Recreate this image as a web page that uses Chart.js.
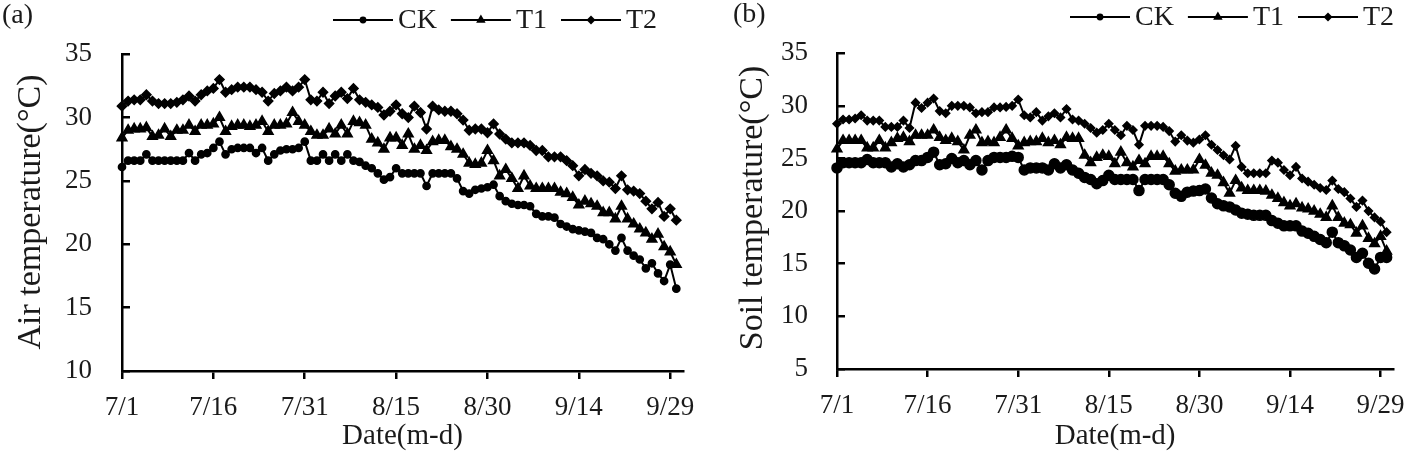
<!DOCTYPE html>
<html><head><meta charset="utf-8">
<script src="https://cdn.jsdelivr.net/npm/chart.js@4.4.1/dist/chart.umd.min.js"></script>
<style>
html,body{margin:0;padding:0;background:#fff;}
#wrap{position:relative;width:1418px;height:465px;overflow:hidden;background:#fff;}
canvas{position:absolute;top:0;}
#ca{left:0;} #cb{left:709px;}
</style></head><body>
<div id="wrap"><canvas id="ca" width="709" height="465"></canvas><canvas id="cb" width="709" height="465"></canvas></div>
<script>
const seriesNames = ['CK', 'T1', 'T2'];
const xTickPos = [0, 15, 30, 45, 60, 75, 90];
const xTickLabels = ['7/1', '7/16', '7/31', '8/15', '8/30', '9/14', '9/29'];
const airYTicks = [10, 15, 20, 25, 30, 35];
const soilYTicks = [5, 10, 15, 20, 25, 30, 35];

const airCK = [26.1,26.6,26.6,26.6,27.1,26.6,26.6,26.6,26.6,26.6,26.6,27.2,26.6,27.1,27.2,27.6,28.1,27.1,27.5,27.6,
  27.6,27.6,27.2,27.6,26.6,27.1,27.4,27.5,27.5,27.6,28.1,26.6,26.6,27.1,26.6,27.1,26.6,27.1,26.6,26.5,
  26.2,26.0,25.6,25.1,25.3,26.0,25.6,25.6,25.6,25.6,24.6,25.6,25.6,25.6,25.6,25.2,24.2,24.0,24.3,24.4,
  24.5,24.7,23.8,23.4,23.2,23.1,23.1,23.0,22.4,22.2,22.2,22.1,21.6,21.4,21.2,21.1,21.0,20.9,20.5,20.4,
  20.0,19.5,20.5,19.5,19.1,18.8,18.1,18.5,17.7,17.1,18.4,16.5];
const airT1 = [28.4,29.0,29.1,29.1,29.2,28.5,28.6,29.1,28.5,29.0,29.0,29.4,28.9,29.4,29.4,29.5,30.0,28.9,29.3,29.4,
  29.4,29.3,29.4,29.7,28.9,29.4,29.4,29.5,30.4,29.7,29.4,28.9,28.6,28.6,29.1,28.7,29.4,28.7,29.7,29.6,
  29.4,28.3,28.0,27.5,28.4,28.4,27.8,28.7,27.5,27.8,27.4,28.1,28.2,28.2,27.7,27.5,27.1,26.4,26.3,26.4,
  27.4,26.6,25.4,25.9,25.2,24.4,25.4,24.6,24.4,24.4,24.4,24.4,24.1,24.0,23.7,23.1,23.4,23.2,23.0,22.5,
  22.5,22.0,23.0,22.0,21.6,21.2,20.9,20.4,20.8,19.8,19.4,18.4];
const airT2 = [30.9,31.3,31.4,31.4,31.8,31.3,31.1,31.1,31.1,31.2,31.4,31.7,31.3,31.8,32.1,32.3,33.0,32.0,32.2,32.4,
  32.4,32.4,32.2,32.0,31.3,31.9,32.1,32.4,32.1,32.4,33.0,31.4,31.3,32.0,31.1,31.7,32.0,31.5,32.3,31.4,
  31.2,31.0,30.8,30.2,30.5,31.0,30.3,30.0,30.9,30.4,29.1,30.9,30.6,30.5,30.5,30.3,29.8,29.0,29.1,29.1,
  28.8,29.5,28.7,28.3,28.0,28.0,28.0,27.8,27.4,27.4,26.9,26.9,26.9,26.6,26.2,25.4,25.9,25.6,25.4,25.0,
  24.9,24.4,25.4,24.3,24.2,24.0,23.4,22.8,23.3,22.2,22.8,21.9];

const soilCK = [24.1,24.6,24.6,24.6,24.6,24.9,24.6,24.6,24.6,24.2,24.5,24.2,24.4,24.8,24.8,25.1,25.6,24.4,24.5,25.0,
  24.6,24.8,24.4,24.8,23.9,24.8,25.1,25.1,25.1,25.2,25.1,23.9,24.1,24.1,24.1,23.9,24.5,24.1,24.4,23.9,
  23.6,23.2,23.0,22.6,22.9,23.4,23.0,23.0,23.0,23.0,21.95,23.0,23.0,23.0,23.0,22.5,21.7,21.4,21.8,21.9,
  21.95,22.1,21.25,20.7,20.5,20.4,20.1,19.8,19.7,19.6,19.6,19.6,19.1,18.85,18.6,18.6,18.6,18.1,17.9,17.6,
  17.3,17.0,18.0,17.0,16.7,16.3,15.6,16.0,15.05,14.5,15.6,15.6];
const soilT1 = [25.9,26.7,26.7,26.7,26.7,26.0,26.0,26.7,26.0,26.5,26.9,27.0,26.6,27.2,27.2,27.2,27.7,27.0,26.7,26.9,
  26.6,25.8,27.2,27.7,26.5,26.6,26.5,27.0,27.7,26.9,26.2,26.5,26.6,26.6,26.9,26.5,26.7,26.3,27.0,26.9,
  26.9,25.3,24.6,25.1,25.3,25.2,24.5,25.6,24.6,24.2,24.8,24.5,25.2,25.2,25.2,24.5,23.8,23.9,23.9,23.9,
  24.9,24.35,23.6,23.4,22.7,21.7,22.9,22.2,21.95,21.95,21.95,21.9,21.5,21.2,20.8,20.5,20.7,20.3,20.2,20.0,
  19.7,19.4,20.5,19.4,18.85,18.7,17.9,18.6,17.4,16.9,17.6,16.2];
const soilT2 = [28.3,28.7,28.7,28.8,29.1,28.6,28.6,28.6,28.0,28.0,28.0,28.6,27.9,30.3,29.8,30.3,30.7,29.5,29.3,30.0,
  30.0,30.0,29.85,29.3,29.4,29.4,29.85,29.85,29.9,30.0,30.6,29.1,28.9,29.4,28.6,29.0,29.3,28.9,29.7,28.7,
  28.6,28.3,27.9,27.45,27.7,28.3,27.7,27.2,28.1,27.7,26.3,28.1,28.1,28.1,28.0,27.6,26.6,27.2,26.7,26.5,
  26.8,27.2,26.3,25.8,25.3,24.9,26.2,24.2,23.6,23.6,23.6,23.6,24.8,24.6,23.9,23.4,24.2,23.1,22.8,22.5,
  22.2,22.0,22.9,22.1,21.8,21.2,20.4,21.0,20.0,19.4,19.0,18.0];

const FONT = "'Liberation Serif', 'DejaVu Serif', serif";
const INK = '#1a1a1a';
const styles = ['circle', 'triangle', 'rectRot'];

function drawMarker(ctx, style, r, x, y) {
  ctx.beginPath();
  if (style === 'circle') {
    ctx.arc(x, y, r, 0, Math.PI * 2);
  } else if (style === 'triangle') {
    for (let i = 0; i < 3; i++) {
      const a = i * 2 * Math.PI / 3;
      const px = x + Math.sin(a) * r, py = y - Math.cos(a) * r;
      if (i === 0) ctx.moveTo(px, py); else ctx.lineTo(px, py);
    }
  } else {
    ctx.moveTo(x, y - r); ctx.lineTo(x + r, y); ctx.lineTo(x, y + r); ctx.lineTo(x - r, y);
  }
  ctx.closePath();
  ctx.fill();
}

const decor = {
  id: 'decor',
  afterDraw(chart, args, o) {
    const ctx = chart.ctx;
    ctx.save();
    ctx.fillStyle = INK;
    ctx.textBaseline = 'middle';
    ctx.font = '28px ' + FONT;
    ctx.textAlign = 'left';
    ctx.fillText(o.panel, o.panelX, o.panelY);
    ctx.save();
    ctx.translate(o.yTitleX, o.yTitleY);
    ctx.rotate(-Math.PI / 2);
    ctx.textAlign = 'center';
    ctx.font = '34px ' + FONT;
    ctx.fillText(o.yTitle, 0, 0);
    ctx.restore();
    let x = o.legendX;
    const y = o.legendY;
    ctx.font = '28px ' + FONT;
    chart.data.datasets.forEach((d, k) => {
      ctx.strokeStyle = '#000';
      ctx.lineWidth = 2;
      ctx.beginPath(); ctx.moveTo(x, y); ctx.lineTo(x + 60, y); ctx.stroke();
      ctx.fillStyle = '#000';
      drawMarker(ctx, styles[k], o.legendR[k], x + 30, y);
      x += 65;
      ctx.fillStyle = INK;
      ctx.textAlign = 'left';
      ctx.fillText(d.label, x, y + 1);
      x += ctx.measureText(d.label).width + 14;
    });
    ctx.restore();
  }
};

function makeChart(id, c) {
  const datasets = c.series.map((vals, k) => ({
    label: seriesNames[k],
    data: vals.map((v, i) => ({ x: i, y: v })),
    borderColor: '#000',
    backgroundColor: '#000',
    borderWidth: 2,
    pointStyle: styles[k],
    pointRadius: c.radii[k],
    pointHoverRadius: c.radii[k],
    pointBackgroundColor: '#000',
    pointBorderColor: '#000',
    pointBorderWidth: 1.5,
    tension: 0,
    clip: false
  }));
  new Chart(document.getElementById(id), {
    type: 'line',
    data: { datasets },
    options: {
      responsive: false,
      animation: false,
      devicePixelRatio: 1,
      events: [],
      layout: { padding: { left: 0, right: c.padRight, top: c.padTop, bottom: 0 } },
      plugins: { legend: { display: false }, tooltip: { enabled: false }, decor: c.decor },
      scales: {
        x: {
          type: 'linear', min: 0, max: 92.1,
          afterBuildTicks: s => { s.ticks = xTickPos.map(v => ({ value: v })); },
          afterFit: s => { s.height = c.xHeight; },
          ticks: {
            callback: v => { const i = xTickPos.indexOf(v); return i >= 0 ? xTickLabels[i] : ''; },
            font: { family: FONT, size: 27 }, color: INK, padding: 13, maxRotation: 0, autoSkip: false
          },
          grid: { drawOnChartArea: false, drawTicks: true, tickLength: 8, color: '#000', lineWidth: 2.5 },
          border: { display: true, color: '#000', width: 2.5 },
          title: { display: true, text: 'Date(m-d)', font: { family: FONT, size: 29 }, color: INK, padding: { top: 0, bottom: 11 } }
        },
        y: {
          type: 'linear', min: c.yTicks[0], max: c.yTicks[c.yTicks.length - 1],
          afterBuildTicks: s => { s.ticks = c.yTicks.map(v => ({ value: v })); },
          afterFit: s => { s.width = c.yWidth; },
          ticks: { font: { family: FONT, size: 27 }, color: INK, padding: c.yPad },
          grid: { drawOnChartArea: false, drawTicks: true, tickLength: -8, color: '#000', lineWidth: 2.5 },
          border: { display: true, color: '#000', width: 2.5 }
        }
      }
    },
    plugins: [decor]
  });
}

makeChart('ca', {
  series: [airCK, airT1, airT2], radii: [3.6, 5.6, 4.6],
  yTicks: airYTicks, yWidth: 122, yPad: 38, xHeight: 94, padRight: 26, padTop: 17,
  decor: { panel: '(a)', panelX: 2, panelY: 16, yTitle: 'Air temperature(°C)', yTitleX: 31, yTitleY: 212,
           legendX: 333, legendY: 20, legendR: [3.4, 5.5, 4.5] }
});
makeChart('cb', {
  series: [soilCK, soilT1, soilT2], radii: [5, 5.6, 4],
  yTicks: soilYTicks, yWidth: 128, yPad: 37, xHeight: 96, padRight: 18, padTop: 14,
  decor: { panel: '(b)', panelX: 24, panelY: 15, yTitle: 'Soil temperature(°C)', yTitleX: 44, yTitleY: 208,
           legendX: 361, legendY: 17, legendR: [3.4, 5.5, 4.5] }
});
</script>
</body></html>
